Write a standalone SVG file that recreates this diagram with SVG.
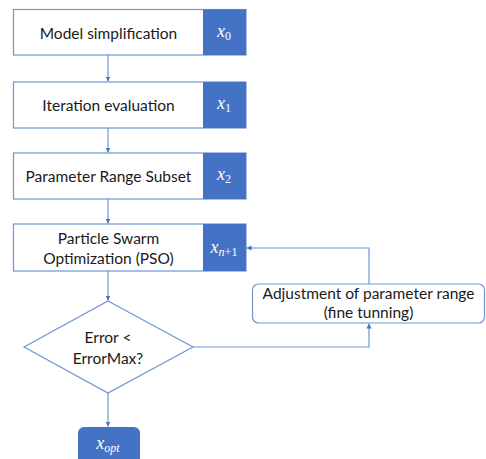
<svg xmlns="http://www.w3.org/2000/svg" width="486" height="459" viewBox="0 0 486 459">
<style>
.box{fill:#fff;stroke:#6F95D4;stroke-width:1.2}
.blk{fill:#4472C4}
.lbl{font-family:Lato,"Open Sans",sans-serif;font-size:15.5px;fill:#1a1a1a;text-anchor:middle}
.mx{font-family:"Liberation Serif","DejaVu Serif",serif;font-style:italic;font-size:18px;fill:#fff;text-anchor:middle}
.sub{font-size:12px}
.up{font-style:normal}
.con{fill:none;stroke:#6F95D4;stroke-width:1.2}
</style>
<defs>
<marker id="ah" markerWidth="6" markerHeight="6" refX="5" refY="3" orient="auto" markerUnits="userSpaceOnUse">
<path d="M0,0.5 L5,3 L0,5.5 Z" fill="#4472C4"/>
</marker>
</defs>
<rect width="486" height="459" fill="#fff"/>
<g id="connectors">
<line class="con" x1="108" y1="55" x2="108" y2="81.5" marker-end="url(#ah)"/>
<line class="con" x1="108" y1="128" x2="108" y2="152.5" marker-end="url(#ah)"/>
<line class="con" x1="108" y1="199" x2="108" y2="223.5" marker-end="url(#ah)"/>
<line class="con" x1="108" y1="271" x2="108" y2="300.5" marker-end="url(#ah)"/>
<line class="con" x1="108" y1="393" x2="108" y2="426.5" marker-end="url(#ah)"/>
<polyline class="con" points="193,347 369,347 369,323.5" marker-end="url(#ah)"/>
<polyline class="con" points="369,284 369,248 246.5,248" marker-end="url(#ah)"/>
</g>
<g id="n1">
<rect class="box" x="13.5" y="9.5" width="232.5" height="45.5"/>
<rect class="blk" x="203" y="9.5" width="43" height="45.5"/>
<text class="lbl" x="108.5" y="39">Model simplification</text>
<text class="mx" x="224" y="37">x<tspan class="sub up" dy="3">0</tspan></text>
</g>
<g id="n2">
<rect class="box" x="13.5" y="82" width="232.5" height="46"/>
<rect class="blk" x="203" y="82" width="43" height="46"/>
<text class="lbl" x="108.5" y="111">Iteration evaluation</text>
<text class="mx" x="224" y="109">x<tspan class="sub up" dy="3">1</tspan></text>
</g>
<g id="n3">
<rect class="box" x="13.5" y="153" width="232.5" height="46"/>
<rect class="blk" x="203" y="153" width="43" height="46"/>
<text class="lbl" x="108.5" y="182">Parameter Range Subset</text>
<text class="mx" x="224" y="180">x<tspan class="sub up" dy="3">2</tspan></text>
</g>
<g id="n4">
<rect class="box" x="13.5" y="224" width="232.5" height="47"/>
<rect class="blk" x="203" y="224" width="43" height="47"/>
<text class="lbl" x="108.5" y="244">Particle Swarm</text>
<text class="lbl" x="108.5" y="264">Optimization (PSO)</text>
<text class="mx" x="224" y="253">x<tspan class="sub" dy="3">n</tspan><tspan class="sub up">+1</tspan></text>
</g>
<g id="n5">
<polygon class="box" points="108,301 193,347 108,393 24,347"/>
<text class="lbl" x="108" y="343">Error &lt;</text>
<text class="lbl" x="108" y="364">ErrorMax?</text>
</g>
<g id="n6">
<rect class="box" x="252.5" y="284" width="232" height="39" rx="6"/>
<text class="lbl" x="368.5" y="299">Adjustment of parameter range</text>
<text class="lbl" x="368.5" y="318">(fine tunning)</text>
</g>
<g id="n7">
<rect class="blk" x="78" y="427" width="62" height="45" rx="6"/>
<text class="mx" x="108" y="449">x<tspan class="sub" dy="3">opt</tspan></text>
</g>
</svg>
